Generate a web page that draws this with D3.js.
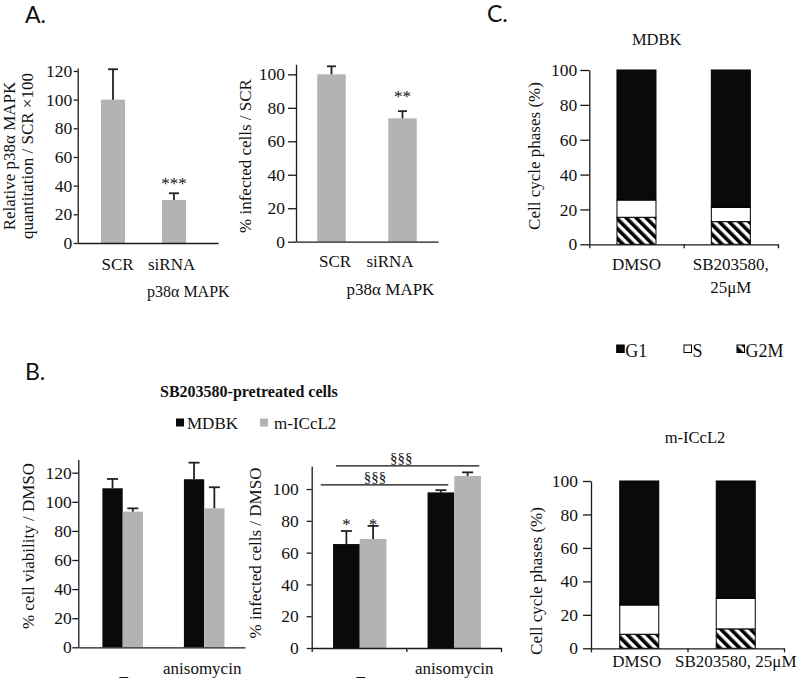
<!DOCTYPE html>
<html><head><meta charset="utf-8">
<script src="https://cdn.jsdelivr.net/npm/d3@7"></script>
<style>
body{margin:0;background:#fff}
svg{display:block}
text{font-family:"Liberation Serif","Times New Roman",serif;fill:#111}
.pl{font-family:Lato,"Open Sans",sans-serif;font-size:23px}
</style>
</head><body>
<svg id="c" width="800" height="681"></svg>
<script>
// ---------- DATA ----------
const aCategories = ["SCR", "siRNA p38α MAPK"];
const aP38Values = [100, 30];
const aP38Errors = [21.2, 4.7];
const aP38Stars = ["", "***"];
const aInfValues = [100, 73.7];
const aInfErrors = [4.8, 4.3];
const aInfStars = ["", "**"];
const aTicksP38 = [0, 20, 40, 60, 80, 100, 120];
const aTicksInf = [0, 20, 40, 60, 80, 100];

const bCategories = ["_", "anisomycin"];
const bSeries = ["MDBK", "m-ICcL2"];
const bViabMDBK = [109.3, 115.5];
const bViabMDBKErr = [6.4, 11.4];
const bViabICcL2 = [93.2, 95.5];
const bViabICcL2Err = [2.3, 14.5];
const bInfMDBK = [65.4, 97.9];
const bInfMDBKErr = [8.2, 1.4];
const bInfICcL2 = [68.6, 108.2];
const bInfICcL2Err = [8.2, 2.3];
const bInfStars = ["*", ""];
const bSigLabels = ["§§§", "§§§"];
const bSigLevels = [114.6, 102.6];
const bTicksViab = [0, 20, 40, 60, 80, 100, 120];
const bTicksInf = [0, 20, 40, 60, 80, 100];

const cCategories = ["DMSO", "SB203580, 25μM"];
const cPhases = ["G1", "S", "G2M"];
const cMdbkG1 = [74.6, 78.8];
const cMdbkS = [9.9, 8.2];
const cMdbkG2M = [15.5, 13.0];
const cIccl2G1 = [74.1, 70.1];
const cIccl2S = [17.5, 18.3];
const cIccl2G2M = [8.4, 11.6];
const cTicks = [0, 20, 40, 60, 80, 100];

// ---------- STYLE ----------
const GRAY = "#b3b3b3", BLACK = "#0a0a0a", AX = "#1a1a1a";
const svg = d3.select("#c");
const defs = svg.append("defs");
const pat = defs.append("pattern").attr("id", "hatch").attr("patternUnits", "userSpaceOnUse")
  .attr("width", 7).attr("height", 7).attr("patternTransform", "rotate(-45)");
pat.append("rect").attr("width", 7).attr("height", 7).attr("fill", "#fff");
pat.append("rect").attr("width", 3.6).attr("height", 7).attr("fill", "#000");

function yAxis(x0, y, ticks, size, pad, fs) {
  const g = svg.append("g").attr("transform", `translate(${x0},0)`)
    .call(d3.axisLeft(y).tickValues(ticks).tickSizeInner(size).tickSizeOuter(0).tickPadding(pad));
  g.attr("font-family", null).attr("font-size", null).attr("color", AX);
  g.selectAll(".tick text").style("font-size", fs + "px").attr("fill", "#111");
  g.selectAll("path,line").attr("stroke-width", 1.3);
  return g;
}
function xAxis(y0, x0, x1, n, ticks) {
  const s = d3.scaleLinear().domain([0, n]).range([x0, x1]);
  const g = svg.append("g").attr("transform", `translate(0,${y0})`)
    .call(d3.axisBottom(s).tickValues(ticks ? d3.range(n + 1) : []).tickFormat("").tickSizeInner(4).tickSizeOuter(0));
  g.attr("color", AX);
  g.selectAll("path,line").attr("stroke-width", 1.3);
}
function yTitle(lines, xs, cy, fs) {
  lines.forEach((t, i) => {
    svg.append("text").attr("transform", `translate(${xs[i]},${cy}) rotate(-90)`)
      .attr("text-anchor", "middle").style("font-size", fs + "px").text(t);
  });
}
function label(t, x, y, fs, anchor, extra) {
  const e = svg.append("text").attr("x", x).attr("y", y).attr("text-anchor", anchor || "middle")
    .style("font-size", fs + "px").text(t);
  if (extra) extra(e);
  return e;
}
function errBar(cx, y0, y1, cap) {
  svg.append("line").attr("x1", cx).attr("x2", cx).attr("y1", y0).attr("y2", y1)
    .attr("stroke", "#222").attr("stroke-width", 1.8);
  svg.append("line").attr("x1", cx - cap / 2).attr("x2", cx + cap / 2).attr("y1", y1).attr("y2", y1)
    .attr("stroke", "#222").attr("stroke-width", 1.8);
}

// ---------- PANEL LETTERS ----------
svg.append("text").attr("class", "pl").attr("x", 25).attr("y", 23).text("A.");
svg.append("text").attr("class", "pl").attr("x", 25).attr("y", 380).text("B.");
svg.append("text").attr("class", "pl").attr("x", 487).attr("y", 22).text("C.");

// ---------- A-left ----------
{
  const y = d3.scaleLinear().domain([0, 122]).range([243, 68.1]);
  const x = d3.scalePoint().domain(aCategories).range([113, 174]);
  const bw = 24;
  aCategories.forEach((c, i) => {
    svg.append("rect").attr("x", x(c) - bw / 2).attr("width", bw)
      .attr("y", y(aP38Values[i])).attr("height", y(0) - y(aP38Values[i])).attr("fill", GRAY);
    errBar(x(c), y(aP38Values[i]), y(aP38Values[i] + aP38Errors[i]), 10);
    if (aP38Stars[i]) label(aP38Stars[i], x(c), y(aP38Values[i] + aP38Errors[i]) - 4.6, 17, "middle", e => e.attr("fill", "#333"));
  });
  yAxis(77.7, y, aTicksP38, 4, 1.5, 17.5);
  xAxis(243, 77.7, 218, 2, false);
  label("SCR", x(aCategories[0]) + 4.5, 270, 17);
  const parts = aCategories[1].split(" ");
  label(parts[0], x(aCategories[1]) - 26, 270, 17, "start");
  label(parts.slice(1).join(" "), x(aCategories[1]) - 27, 297, 16, "start");
  yTitle(["Relative p38α MAPK", "quantitation / SCR ×100"], [15, 33], 156, 17);
}

// ---------- A-right ----------
{
  const y = d3.scaleLinear().domain([0, 106]).range([241.7, 64.3]);
  const x = d3.scaleBand().domain(aCategories).range([296, 438]);
  const bw = 28.5;
  aCategories.forEach((c, i) => {
    const cx = x(c) + x.bandwidth() / 2;
    svg.append("rect").attr("x", cx - bw / 2).attr("width", bw)
      .attr("y", y(aInfValues[i])).attr("height", y(0) - y(aInfValues[i])).attr("fill", GRAY);
    errBar(cx, y(aInfValues[i]), y(aInfValues[i] + aInfErrors[i]), 9);
    if (aInfStars[i]) label(aInfStars[i], cx, y(aInfValues[i] + aInfErrors[i]) - 9.4, 17, "middle", e => e.attr("fill", "#333"));
  });
  yAxis(296, y, aTicksInf, 8, 3, 17.5);
  xAxis(241.7, 296, 438, 2, false);
  const c0 = x(aCategories[0]) + x.bandwidth() / 2, c1 = x(aCategories[1]) + x.bandwidth() / 2;
  label("SCR", c0 + 3.5, 267, 17);
  const parts = aCategories[1].split(" ");
  label(parts[0], c1 - 12.5, 267, 17);
  label(parts.slice(1).join(" "), c1 - 12, 295, 17);
  yTitle(["% infected cells / SCR"], [251], 156, 17);
}

// ---------- C stacked panels ----------
function cPanel(g1, s, g2m, y, x, x0, x1, tickSize, pad) {
  const rows = cCategories.map((c, i) => ({ cat: c, G1: g1[i], S: s[i], G2M: g2m[i] }));
  const stack = d3.stack().keys(["G2M", "S", "G1"])(rows);
  const fills = { G1: BLACK, S: "#fff", G2M: "url(#hatch)" };
  const bw = 39;
  stack.forEach(layer => {
    layer.forEach(d => {
      const cx = x(d.data.cat) + x.bandwidth() / 2;
      svg.append("rect").attr("x", cx - bw / 2).attr("width", bw)
        .attr("y", y(d[1])).attr("height", y(d[0]) - y(d[1]))
        .attr("fill", fills[layer.key]).attr("stroke", "#000").attr("stroke-width", 1);
    });
  });
  yAxis(x0, y, cTicks, tickSize, pad, 17.5);
  xAxis(y(0), x0, x1, 2, true);
}
{
  const y = d3.scaleLinear().domain([0, 100]).range([244.3, 70]);
  const x = d3.scaleBand().domain(cCategories).range([589.3, 778]);
  cPanel(cMdbkG1, cMdbkS, cMdbkG2M, y, x, 589.3, 778, 9, 3);
  const c0 = x(cCategories[0]) + x.bandwidth() / 2, c1 = x(cCategories[1]) + x.bandwidth() / 2;
  label(cCategories[0], c0, 270, 17);
  const parts = cCategories[1].split(" ");
  label(parts[0], c1, 270, 17);
  label(parts[1], c1, 293, 17);
  label("MDBK", 656.7, 45, 16.5);
  yTitle(["Cell cycle phases (%)"], [540], 156, 17);
}
{
  const y = d3.scaleLinear().domain([0, 100]).range([648.3, 481]);
  const x = d3.scaleBand().domain(cCategories).range([591, 784]);
  cPanel(cIccl2G1, cIccl2S, cIccl2G2M, y, x, 591, 784, 8, 5);
  const c0 = x(cCategories[0]) + x.bandwidth() / 2, c1 = x(cCategories[1]) + x.bandwidth() / 2;
  label(cCategories[0], c0 - 2.5, 667, 17);
  label(cCategories[1], c1, 667, 17);
  label("m-ICcL2", 695, 443, 16.5);
  yTitle(["Cell cycle phases (%)"], [542], 581, 17);
}
// C legend
{
  const fills = { G1: BLACK, S: "#fff", G2M: "url(#hatch)" };
  const xs = [616.7, 684, 737];
  cPhases.forEach((p, i) => {
    svg.append("rect").attr("x", xs[i]).attr("y", 345).attr("width", 7.5).attr("height", 7.5)
      .attr("fill", fills[p]).attr("stroke", "#000").attr("stroke-width", 1);
    label(p, xs[i] + 8.5, 356.5, 18, "start");
  });
}

// ---------- B ----------
label("SB203580-pretreated cells", 160, 397, 16, "start", e => e.style("font-weight", "bold"));
{
  const xs = [176, 260];
  const cols = [BLACK, GRAY];
  bSeries.forEach((s, i) => {
    svg.append("rect").attr("x", xs[i]).attr("y", 418.5).attr("width", 8).attr("height", 8).attr("fill", cols[i]);
    label(s, xs[i] + (i ? 14 : 11), 429.3, 17, "start");
  });
}
function groupBars(x, center, y, vals, errs, bw, cap) {
  const inner = d3.scaleBand().domain(bSeries).range([-bw, bw]);
  const cols = [BLACK, GRAY];
  bCategories.forEach((c, i) => {
    bSeries.forEach((s, j) => {
      const left = center(c) + inner(s);
      const v = vals[j][i], e = errs[j][i];
      svg.append("rect").attr("x", left).attr("width", inner.bandwidth())
        .attr("y", y(v)).attr("height", y(0) - y(v)).attr("fill", cols[j]);
      errBar(left + inner.bandwidth() / 2, y(v), y(v + e), cap);
    });
  });
  return inner;
}
// B-left
{
  const y = d3.scaleLinear().domain([0, 129]).range([647.3, 459.6]);
  const x = d3.scalePoint().domain(bCategories).range([122.7, 204.2]);
  groupBars(x, c => x(c), y, [bViabMDBK, bViabICcL2], [bViabMDBKErr, bViabICcL2Err], 20.3, 11);
  yAxis(78.3, y, bTicksViab, 6, 0.5, 17.5);
  xAxis(647.3, 78.3, 245, 2, false);
  label(bCategories[0], x(bCategories[0]) + 1, 676, 17);
  label(bCategories[1], x(bCategories[1]) - 2, 674, 17);
  yTitle(["% cell viability / DMSO"], [34], 546, 17);
}
// B-mid
{
  const y = d3.scaleLinear().domain([0, 114.5]).range([648, 466]);
  const x = d3.scaleBand().domain(bCategories).range([312.5, 501.5]);
  const center = c => x(c) + x.bandwidth() / 2;
  const inner = groupBars(x, center, y, [bInfMDBK, bInfICcL2], [bInfMDBKErr, bInfICcL2Err], 26.7, 11);
  yAxis(311.7, y, bTicksInf, 5, 8, 17.5);
  xAxis(648, 311.7, 501, 2, true);
  bCategories.forEach((c, i) => {
    if (!bInfStars[i]) return;
    const top = Math.max(bInfMDBK[i] + bInfMDBKErr[i], bInfICcL2[i] + bInfICcL2Err[i]);
    bSeries.forEach(s => label(bInfStars[i], center(c) + inner(s) + inner.bandwidth() / 2, y(top) + 4.5, 17, "middle", e => e.attr("fill", "#333")));
  });
  // significance brackets
  const c0 = center(bCategories[0]), c1 = center(bCategories[1]);
  const spans = [[c0 - 23.75, c1 + 25, -6.3], [c0 - 39, c1 - 6, -9.5]];
  bSigLevels.forEach((lv, k) => {
    const [xa, xb, off] = spans[k];
    svg.append("line").attr("x1", xa).attr("x2", xb).attr("y1", y(lv)).attr("y2", y(lv))
      .attr("stroke", "#111").attr("stroke-width", 1.3);
    label(bSigLabels[k], (xa + xb) / 2 + off, y(lv) - 2.5, 15);
  });
  label(bCategories[0], center(bCategories[0]) + 1, 676, 17);
  label(bCategories[1], center(bCategories[1]), 674, 17);
  yTitle(["% infected cells / DMSO"], [261], 553, 17);
}
</script>
</body></html>
